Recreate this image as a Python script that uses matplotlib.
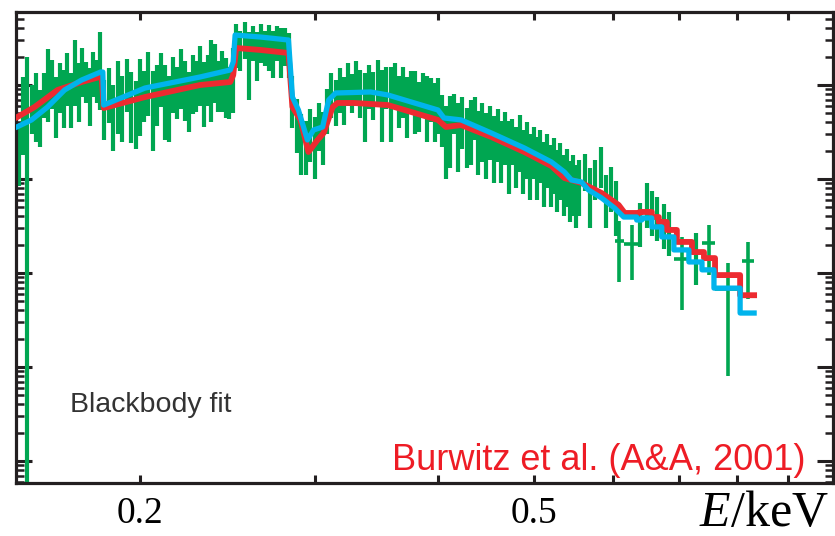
import numpy as np
import matplotlib
matplotlib.use('Agg')
import matplotlib.pyplot as plt
from matplotlib.ticker import FixedLocator, LogLocator, NullFormatter
from matplotlib.transforms import blended_transform_factory

# measured spectrum, narrow bins (keV, counts, 1-sigma)
dense_e = [0.151, 0.1525, 0.154, 0.1555, 0.157, 0.1585, 0.160, 0.1615, 0.163, 0.1645,
           0.166, 0.1675, 0.169, 0.1705, 0.172, 0.1735, 0.175, 0.1765, 0.178, 0.1795,
           0.181, 0.1825,
           0.184, 0.186, 0.188, 0.190, 0.192, 0.194, 0.196, 0.198, 0.200, 0.202,
           0.204, 0.206, 0.208, 0.210, 0.212, 0.214, 0.216, 0.218, 0.220, 0.222,
           0.224, 0.226, 0.228, 0.230, 0.232, 0.234, 0.236, 0.238, 0.240, 0.242,
           0.244, 0.246, 0.248,
           0.250, 0.2525, 0.255, 0.2575, 0.260, 0.2625, 0.265, 0.2675, 0.270, 0.2725,
           0.275, 0.2775, 0.280, 0.2825,
           0.285, 0.288, 0.291, 0.294, 0.297, 0.300, 0.303, 0.306, 0.309, 0.312,
           0.315, 0.318, 0.321, 0.324, 0.327, 0.330,
           0.3335, 0.337, 0.3405, 0.344, 0.3475, 0.351, 0.3545, 0.358, 0.3615, 0.365,
           0.3685, 0.372, 0.3755, 0.379, 0.3825, 0.386, 0.3895, 0.393, 0.3965, 0.400,
           0.403, 0.407, 0.411, 0.415, 0.419, 0.423, 0.427, 0.431, 0.435, 0.439,
           0.443, 0.447, 0.451, 0.455, 0.459, 0.463, 0.467, 0.471, 0.475, 0.479,
           0.483, 0.487, 0.491, 0.495, 0.499, 0.503, 0.507, 0.511, 0.515, 0.519,
           0.523, 0.527, 0.531, 0.535, 0.539, 0.543, 0.547, 0.551,
           0.555, 0.562, 0.569, 0.576, 0.583, 0.590, 0.597, 0.604,
           0.6383, 0.649, 0.6565, 0.6642, 0.675, 0.683, 0.7274]
dense_flux = [2200, 7000, 9500, 6500, 8000, 5500, 9000, 14000, 12000, 7500,
              11000, 9000, 14000, 8500, 18000, 10500, 16000, 12000, 9500, 15000,
              12500, 21000,
              7000, 9500, 6000, 10500, 7500, 12000, 8000, 6500, 11000, 9000,
              13500, 8000, 10000, 14000, 9500, 7500, 12500, 10000, 15000, 11000,
              8500, 13000, 11500, 16000, 10500, 13500, 17000, 17000, 11500, 14000,
              12000, 10000, 15000,
              30000, 26000, 33000, 22000, 30000, 24000, 31000, 27000, 29000, 25000,
              30000, 26000, 28000, 24000,
              8000, 4500, 3000, 2600, 3500, 2800, 4200, 3300, 6000, 9000,
              7500, 10000, 8000, 11500, 9000, 12000,
              9500, 8000, 11000, 9000, 12500, 8500, 10500, 9000, 11500, 8000,
              10000, 7500, 9500, 8500, 7000, 9000, 7500, 8000, 6500, 7500,
              5000, 3500, 4500, 5500, 3800, 4800, 3500, 4200, 5000, 3200,
              4000, 3000, 3800, 2800, 3500, 2500, 3300, 2400, 2900, 2200,
              3000, 2000, 2500, 1800, 2300, 1700, 2100, 1500, 1900, 1400,
              1700, 1250, 1500, 1100, 1300, 950, 1100, 850,
              1000, 1300, 800, 1100, 1500, 700, 900, 600,
              370, 600, 500, 430, 360, 300, 170]
dense_err = [1350, 5200, 10500, 3500, 5500, 3300, 4500, 10000, 6500, 4800,
             6000, 5500, 8000, 5000, 12000, 6500, 8500, 5500, 5800, 7500,
             6000, 15600,
             4400, 5600, 4000, 7500, 5000, 6900, 5600, 4400, 8100, 5000,
             8800, 6000, 6300, 8100, 6900, 5000, 7500, 5600, 9400, 6900,
             5300, 8100, 6300, 10000, 6900, 7500, 13000, 10600, 6300, 8800,
             7500, 5600, 10000,
             15000, 12000, 14000, 15000, 12000, 13000, 14000, 11000, 15000, 13000,
             12000, 14000, 12000, 12000,
             4500, 2600, 1900, 1500, 2000, 1800, 2200, 1900, 3000, 4500,
             3800, 5000, 4200, 5500, 4000, 6000,
             5000, 5500, 5500, 4800, 6000, 6000, 5000, 6500, 5500, 4500,
             5500, 4800, 4500, 5500, 3800, 4500, 5000, 4000, 4000, 4500,
             2800, 2500, 3200, 2500, 2600, 2700, 2200, 2800, 2400, 2100,
             2500, 2000, 2200, 1900, 2000, 1600, 1900, 1700, 1500, 1400,
             1800, 1300, 1500, 1200, 1300, 1100, 1200, 1000, 1100, 900,
             1000, 800, 900, 700, 800, 600, 700, 550,
             600, 550, 500, 500, 700, 400, 450, 350,
             180, 300, 250, 210, 180, 150, 95]

# rebinned points at high energy (with bin half-widths)
wide_e = [0.609, 0.6266, 0.7035, 0.749, 0.7832, 0.821]
wide_xerr = [0.0065, 0.0117, 0.0123, 0.0113, 0.0228, 0.0115]
wide_flux = [220, 205, 140, 210, 68, 133]
wide_err = [140, 120, 100, 115, 60, 80]

# model curves
cyan_e = [0.1505, 0.1555, 0.1614, 0.1679, 0.1747, 0.1826, 0.1835, 0.1839, 0.2024, 0.2300,
          0.2467, 0.2484, 0.2495, 0.2646, 0.2824, 0.2850, 0.2890, 0.2951, 0.2993, 0.3057,
          0.3100, 0.3151, 0.3418, 0.3557, 0.3996, 0.4052, 0.4217, 0.4523, 0.4884, 0.5200,
          0.5359, 0.5448, 0.5576, 0.5668, 0.5843, 0.6022, 0.6151, 0.6339, 0.6339, 0.6414,
          0.6414, 0.6565, 0.6565, 0.6719, 0.6719, 0.6911, 0.6911, 0.7156, 0.7156, 0.7377,
          0.7377, 0.7585, 0.7585, 0.8060, 0.8060, 0.8326]
cyan_flux = [3600, 4250, 5830, 8850, 11300, 13750, 13750, 6120, 9290, 12170,
             14450, 17570, 34000, 32400, 30100, 7450, 5420, 2600, 3320, 3575,
             6920, 8220, 8430, 7830, 5420, 4460, 4250, 3085, 2136, 1517,
             1187, 976, 929, 764, 628, 491, 394, 394, 366, 366,
             385, 385, 309, 309, 242, 242, 176, 176, 131, 131,
             108, 108, 69, 69, 37.5, 37.5]

red_e = [0.1505, 0.1566, 0.1652, 0.1747, 0.1822, 0.1830, 0.1839, 0.2024, 0.2300, 0.2467,
         0.2484, 0.2501, 0.2646, 0.2824, 0.2850, 0.2904, 0.2958, 0.3021, 0.3064, 0.3129,
         0.3165, 0.3286, 0.3557, 0.3996, 0.4071, 0.4217, 0.4523, 0.4884, 0.5200, 0.5359,
         0.5576, 0.5843, 0.6079, 0.6165, 0.6383, 0.6383, 0.6565, 0.6565, 0.6673, 0.6673,
         0.6799, 0.6799, 0.6959, 0.6959, 0.7207, 0.7207, 0.7411, 0.7411, 0.7604, 0.7604,
         0.8060, 0.8060, 0.8326]
red_flux = [4570, 5830, 8850, 10770, 12170, 12170, 5690, 7450, 10000, 10770,
            12770, 24760, 23600, 21900, 5830, 4250, 1937, 2600, 3085, 5830,
            6440, 6440, 6120, 4250, 3575, 3750, 2800, 1937, 1375, 1025,
            907, 710, 529, 435, 435, 446, 446, 394, 394, 349,
            349, 287, 287, 214, 214, 167, 167, 144, 144, 95,
            95, 58, 58]

xlabel_ticks = [0.2, 0.5]
xlabel_text = ['0.2', '0.5']

green = '#00a651'
red = '#ed2a30'
cyan = '#00b4ec'
ink = '#231f20'

plt.rcParams['mathtext.fontset'] = 'custom'
plt.rcParams['mathtext.it'] = 'Liberation Serif:italic'
plt.rcParams['mathtext.rm'] = 'Liberation Serif'

fig = plt.figure(figsize=(8.35, 5.36), dpi=100)
ax = fig.add_axes([16 / 835, 1 - 483 / 536, 817 / 835, 471 / 536])
ax.set_xscale('log')
ax.set_yscale('log', nonpositive='clip')

ax.errorbar(dense_e, dense_flux, yerr=dense_err, fmt='none', ecolor=green,
            elinewidth=3.0, capsize=0, zorder=2)
ax.errorbar(wide_e, wide_flux, xerr=wide_xerr, yerr=wide_err, fmt='none',
            ecolor=green, elinewidth=2.6, capsize=0, zorder=2)
ax.plot(red_e, red_flux, color=red, lw=4.2, zorder=3)
ax.plot(cyan_e, cyan_flux, color=cyan, lw=3.8, zorder=4)

ax.set_xlim(0.15, 1.0)
ax.set_ylim(0.583, 59800)

ax.xaxis.set_major_locator(FixedLocator(xlabel_ticks))
ax.xaxis.set_major_formatter(NullFormatter())
ax.xaxis.set_minor_locator(FixedLocator([0.3, 0.4, 0.6, 0.7, 0.8, 0.9]))
ax.xaxis.set_minor_formatter(NullFormatter())
ax.yaxis.set_major_locator(LogLocator(base=10, numticks=20))
ax.yaxis.set_minor_locator(LogLocator(base=10, subs=np.arange(2, 10), numticks=40))
ax.yaxis.set_major_formatter(NullFormatter())
ax.yaxis.set_minor_formatter(NullFormatter())

ax.tick_params(which='both', direction='in', top=True, right=True, color=ink)
ax.tick_params(axis='x', which='both', length=6, width=2.2)
ax.tick_params(axis='y', which='major', length=11.5, width=2.2)
ax.tick_params(axis='y', which='minor', length=6, width=1.8)
for s in ax.spines.values():
    s.set_linewidth(2.3)
    s.set_color(ink)

# tick labels placed at a fixed baseline below the frame
tr = blended_transform_factory(ax.transData, fig.transFigure)
for xv, txt in zip(xlabel_ticks, xlabel_text):
    ax.text(xv, 1 - 523 / 536, txt, transform=tr, family='Liberation Serif',
            fontsize=27, ha='center', va='baseline', clip_on=False)

fig.text(70 / 835, 1 - 405 / 536, 'Blackbody fit', family='Liberation Sans',
         fontsize=20.5, color='#333333', va='center', ha='left')
fig.text(806 / 835, 1 - 470 / 536, 'Burwitz et al. (A&A, 2001)', family='Liberation Sans',
         fontsize=26, color='#ee1c25', va='baseline', ha='right')
fig.text(829 / 835, 1 - 526 / 536, '$E$/keV', family='Liberation Serif',
         fontsize=36, color='black', va='baseline', ha='right')

fig.savefig('out.png', dpi=100)
